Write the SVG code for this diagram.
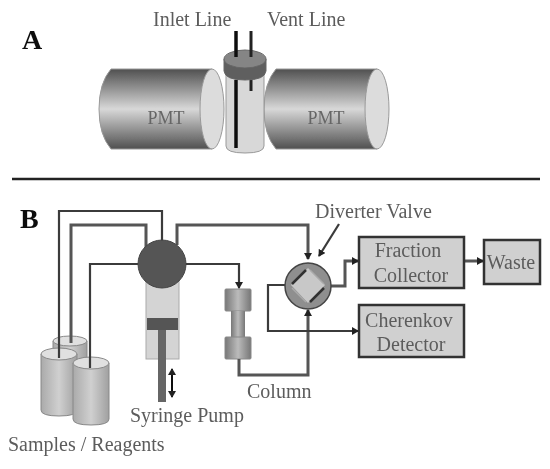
<svg xmlns="http://www.w3.org/2000/svg" width="550" height="469" viewBox="0 0 550 469">
<style>
text{font-family:"Liberation Serif","Times New Roman",serif;font-size:20px;fill:#5c5c5c}
.m{text-anchor:middle}
.p{font-size:18px;fill:#666}
.h{font-size:28px;font-weight:bold;fill:#111}
.box{fill:#d0d0d0;stroke:#333;stroke-width:2.5}
.w{fill:none;stroke:#3a3a3a;stroke-width:2.2}
.wt{fill:none;stroke:#555;stroke-width:3}
.end{fill:#dcdcdc;stroke:#999;stroke-width:1}
.vial{fill:url(#vg);stroke:#888;stroke-width:1}
.top{fill:#e0e0e0;stroke:#888;stroke-width:1}
</style>
<defs>
<linearGradient id="pg" x1="0" y1="0" x2="0" y2="1"><stop offset="0" stop-color="#505050"/><stop offset=".5" stop-color="#d8d8d8"/><stop offset="1" stop-color="#505050"/></linearGradient>
<linearGradient id="vg" x1="0" y1="0" x2="1" y2="0"><stop offset="0" stop-color="#aaa"/><stop offset=".5" stop-color="#d0d0d0"/><stop offset="1" stop-color="#a0a0a0"/></linearGradient>
<linearGradient id="cg" x1="0" y1="0" x2="1" y2="0"><stop offset="0" stop-color="#777"/><stop offset=".5" stop-color="#bbb"/><stop offset="1" stop-color="#777"/></linearGradient>
<marker id="a" markerWidth="8" markerHeight="8" refX="6" refY="4" orient="auto" markerUnits="userSpaceOnUse"><path d="M0 0L7 4L0 8z" fill="#222"/></marker>
<marker id="s" markerWidth="8" markerHeight="8" refX="1" refY="4" orient="auto" markerUnits="userSpaceOnUse"><path d="M7 0L0 4L7 8z" fill="#222"/></marker>
<filter id="b" x="-5%" y="-5%" width="110%" height="110%"><feGaussianBlur stdDeviation="0.6"/></filter>
</defs>
<g filter="url(#b)">
<text class="h" x="22" y="49">A</text>
<text class="h" x="20" y="228">B</text>
<text x="153" y="26">Inlet Line</text>
<text x="267" y="26">Vent Line</text>
<path d="M12 179H540" stroke="#222" stroke-width="2.5" fill="none"/>

<g id="pmt-left">
<path d="M111 69H212V149H111Q99 135 99 109Q99 83 111 69Z" fill="url(#pg)" stroke="#999"/>
<ellipse class="end" cx="212" cy="109" rx="12" ry="40"/>
<text class="m p" x="166" y="124">PMT</text>
</g>
<g id="pmt-right">
<path d="M276 69H377V149H276Q264 135 264 109Q264 83 276 69Z" fill="url(#pg)" stroke="#999"/>
<ellipse class="end" cx="377" cy="109" rx="12" ry="40"/>
<text class="m p" x="326" y="124">PMT</text>
</g>
<g id="vial-a">
<path d="M226 70H264V146Q264 153 245 153Q226 153 226 146Z" fill="#d8d8d8" stroke="#999"/>
<path d="M236 148V80" stroke="#111" stroke-width="3.5"/>
<path d="M251 91V70" stroke="#222" stroke-width="3"/>
<path d="M224 59V71Q225 80 245 80Q265 80 266 71V59Z" fill="#5e5e5e" stroke="#666"/>
<ellipse cx="245" cy="59" rx="21" ry="9" fill="#858585" stroke="#666"/>
<path d="M236 31V57" stroke="#111" stroke-width="3.5"/>
<path d="M251 31V57" stroke="#222" stroke-width="3"/>
</g>

<g id="samples">
<path class="vial" d="M53 341V400H87V341Z"/><ellipse class="top" cx="70" cy="341" rx="17" ry="5"/>
<path class="vial" d="M41 354V410Q41 416 59 416Q77 416 77 410V354Z"/><ellipse class="top" cx="59" cy="354" rx="18" ry="6"/>
<path class="vial" d="M73 363V419Q73 425 91 425Q109 425 109 419V363Z"/><ellipse class="top" cx="91" cy="363" rx="18" ry="6"/>
</g>
<g id="syringe">
<rect x="146" y="270" width="33" height="89" fill="#d4d4d4" stroke="#aaa"/>
<rect x="147" y="318" width="31" height="12" fill="#555"/>
<rect x="158" y="330" width="8" height="72" fill="#666"/>
</g>
<g id="column">
<rect x="225" y="289" width="26" height="22" rx="1" fill="url(#cg)" stroke="#888"/>
<rect x="231" y="311" width="14" height="26" fill="url(#cg)"/>
<rect x="225" y="337" width="26" height="22" rx="1" fill="url(#cg)" stroke="#888"/>
</g>

<g id="connectors">
<path class="w" d="M59 358V211H162V242"/>
<path class="wt" d="M71 343V225H146V248"/>
<path class="w" d="M90 368V264H138"/>
<path class="wt" d="M177 245V225H308V259" marker-end="url(#a)"/>
<path class="w" d="M186 264H239V288" marker-end="url(#a)"/>
<path class="wt" d="M239 359V375H308V310" marker-end="url(#a)"/>
<path class="wt" d="M331 286H345V261H358" marker-end="url(#a)"/>
<path class="w" d="M285 285H268V331H358" marker-end="url(#a)"/>
<path class="wt" d="M464 261H483" marker-end="url(#a)"/>
<path class="w" d="M339 224L319 256" marker-end="url(#a)"/>
<path stroke="#111" stroke-width="2" fill="none" d="M172 369V397" marker-start="url(#s)" marker-end="url(#a)"/>
</g>

<g id="selector-valve"><circle cx="162" cy="264" r="24" fill="#555" stroke="#444"/></g>
<g id="diverter-valve">
<circle cx="308" cy="286" r="23" fill="#8f8f8f" stroke="#444" stroke-width="1.5"/>
<path d="M308 268L325 285L308 303L291 285Z" fill="#c8c8c8"/>
<path d="M306 270L292 284M310 302L324 288" stroke="#333" stroke-width="2.5"/>
<path d="M310 270L324 284M306 302L292 288" stroke="#aaa" stroke-width="1.5"/>
</g>
<g id="fraction-collector"><rect class="box" x="359" y="237" width="105" height="51"/><text class="m" x="408" y="257">Fraction</text><text class="m" x="411" y="282">Collector</text></g>
<g id="cherenkov-detector"><rect class="box" x="359" y="305" width="105" height="52"/><text class="m" x="409" y="327">Cherenkov</text><text class="m" x="411" y="351">Detector</text></g>
<g id="waste"><rect class="box" x="484" y="240" width="56" height="44"/><text class="m" x="511" y="269">Waste</text></g>
<text x="315" y="218">Diverter Valve</text>
<text x="247" y="398">Column</text>
<text x="130" y="422">Syringe Pump</text>
<text x="8" y="451">Samples / Reagents</text>
</g>
</svg>
